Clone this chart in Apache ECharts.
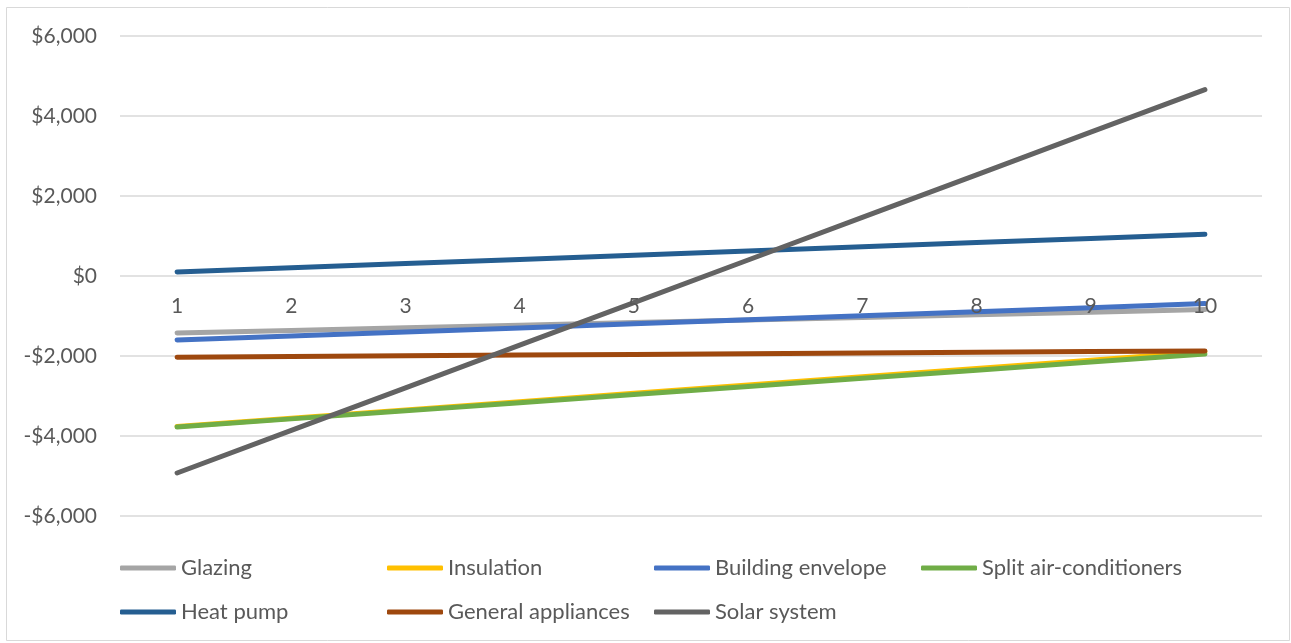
<!DOCTYPE html>
<html>
<head>
<meta charset="utf-8">
<title>Net savings by measure</title>
<script src="https://cdn.jsdelivr.net/npm/echarts@6/dist/echarts.min.js"></script>
<style>
  html, body { margin: 0; padding: 0; background: #ffffff; }
  #chart { width: 1291px; height: 643px; }
</style>
</head>
<body>
<div id="chart"></div>
<script>
// Year index along the horizontal axis
const years = ['1', '2', '3', '4', '5', '6', '7', '8', '9', '10'];

// Cumulative net position per measure ($)
const glazing = [-1425, -1360, -1295, -1230, -1165, -1100, -1035, -970, -905, -840];
const insulation = [-3765, -3557, -3349, -3142, -2934, -2726, -2518, -2310, -2103, -1895];
const buildingEnvelope = [-1600, -1499, -1398, -1297, -1196, -1095, -994, -893, -792, -690];
const splitAirConditioners = [-3775, -3572, -3369, -3166, -2963, -2761, -2558, -2355, -2152, -1950];
const heatPump = [100, 205, 310, 415, 520, 625, 730, 835, 940, 1045];
const generalAppliances = [-2030, -2012, -1995, -1977, -1960, -1942, -1925, -1907, -1890, -1872];
const solarSystem = [-4925, -3860, -2795, -1730, -665, 400, 1465, 2530, 3595, 4660];

const seriesNames = ['Glazing', 'Insulation', 'Building envelope', 'Split air-conditioners',
                     'Heat pump', 'General appliances', 'Solar system'];
const seriesData = [glazing, insulation, buildingEnvelope, splitAirConditioners,
                    heatPump, generalAppliances, solarSystem];
const seriesColors = ['#A5A5A5', '#FFC000', '#4472C4', '#70AD47', '#255E91', '#9E480E', '#636363'];

const FONT = 'Lato, "Open Sans", sans-serif';
const TEXT = '#595959';

// Plot area, in pixels
const GRID = { left: 120, right: 29, top: 36, bottom: 127 };
const Y_MIN = -6000, Y_MAX = 6000;
const PLOT_H = 643 - GRID.top - GRID.bottom;
// Lift the category axis from the bottom edge up to the zero line
const ZERO_OFFSET = -PLOT_H * (0 - Y_MIN) / (Y_MAX - Y_MIN);

function money(v) {
  const s = Math.abs(v).toLocaleString('en-US');
  return (v < 0 ? '-$' : '$') + s;
}

const chart = echarts.init(document.getElementById('chart'), null, { renderer: 'canvas' });

chart.setOption({
  animation: false,
  backgroundColor: '#ffffff',
  textStyle: { fontFamily: FONT },
  graphic: [{
    type: 'rect',
    shape: { x: 6.5, y: 7.5, width: 1283, height: 633 },
    style: { fill: 'none', stroke: '#D9D9D9', lineWidth: 1 },
    silent: true
  }],
  grid: Object.assign({ containLabel: false }, GRID),
  legend: {
    left: 120,
    top: 556,
    width: 1100,
    padding: 0,
    orient: 'horizontal',
    icon: 'roundRect',
    itemWidth: 56,
    itemHeight: 5,
    itemGap: 20,
    textStyle: {
      color: TEXT,
      fontFamily: FONT,
      fontSize: 22,
      lineHeight: 24,
      width: 186
    },
    data: seriesNames
  },
  xAxis: {
    type: 'category',
    data: years,
    boundaryGap: true,
    offset: ZERO_OFFSET,
    z: 5,
    axisLine: { show: false, onZero: false },
    axisTick: { show: false },
    axisLabel: { color: TEXT, fontFamily: FONT, fontSize: 21, margin: 20 },
    splitLine: { show: false }
  },
  yAxis: {
    type: 'value',
    min: Y_MIN,
    max: Y_MAX,
    interval: 2000,
    axisLine: { show: false },
    axisTick: { show: false },
    axisLabel: {
      color: TEXT, fontFamily: FONT, fontSize: 21, margin: 23,
      formatter: money
    },
    splitLine: { lineStyle: { color: '#D9D9D9', width: 1.5 } }
  },
  series: seriesNames.map((name, i) => ({
    name: name,
    type: 'line',
    data: seriesData[i],
    symbol: 'none',
    smooth: false,
    color: seriesColors[i],
    lineStyle: { width: 5, color: seriesColors[i], cap: 'round', join: 'round' },
    emphasis: { disabled: true }
  }))
});
</script>
</body>
</html>
